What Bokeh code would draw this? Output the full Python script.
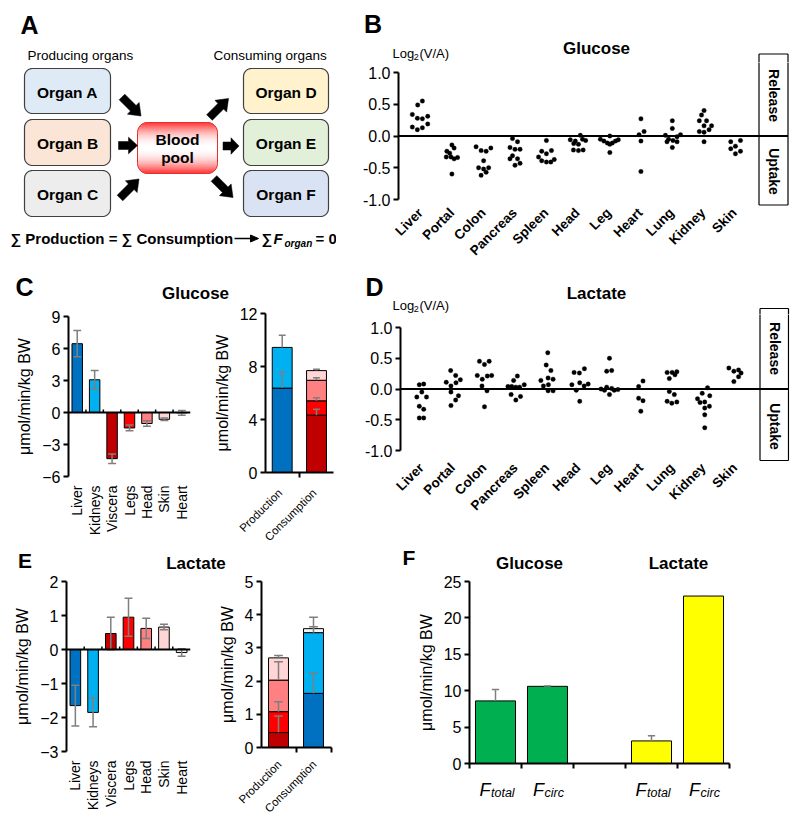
import math
import numpy as np
from bokeh.plotting import figure
from bokeh.models import Range1d, FixedTicker, Span, NumeralTickFormatter, CustomJSTickFormatter
from bokeh.layouts import row, column
from bokeh.embed import file_html
from bokeh.resources import INLINE
from bokeh.core.properties import value

FONT = "Liberation Sans"
GREY = "#7F7F7F"

# ---------------- data ----------------
vessel_organs = ["Liver", "Portal", "Colon", "Pancreas", "Spleen", "Head", "Leg", "Heart", "Lung", "Kidney", "Skin"]
log2_ticks = [-1.0, -0.5, 0.0, 0.5, 1.0]

glc_log2 = [
    [0.49, 0.55, 0.34, 0.28, 0.27, 0.31, 0.14, 0.10, 0.13, 0.19],
    [-0.14, -0.19, -0.24, -0.27, -0.33, -0.33, -0.36, -0.34, -0.60],
    [-0.17, -0.23, -0.24, -0.19, -0.39, -0.50, -0.52, -0.50, -0.62, -0.57],
    [-0.04, -0.09, -0.18, -0.21, -0.21, -0.31, -0.36, -0.36, -0.43, -0.46],
    [-0.07, -0.24, -0.28, -0.23, -0.33, -0.39, -0.41, -0.41, -0.37],
    [0.01, -0.06, -0.08, -0.05, -0.07, -0.12, -0.13, -0.22, -0.23, -0.22],
    [-0.05, -0.08, -0.11, -0.13, -0.11, -0.08, -0.06, 0.00, -0.26],
    [0.27, 0.07, 0.02, -0.08, -0.56],
    [0.24, 0.12, 0.01, -0.05, -0.07, -0.01, 0.02, -0.09, -0.09, -0.18],
    [0.40, 0.33, 0.24, 0.24, 0.16, 0.16, 0.07, 0.06, 0.10, -0.09],
    [-0.09, -0.16, -0.07, -0.20, -0.24, -0.28],
]
glc_jitter = [
    [-0.09, 0.06, -0.26, -0.10, 0.06, 0.23, -0.26, -0.10, 0.06, 0.23],
    [0.00, 0.07, -0.16, -0.07, -0.18, -0.03, 0.07, 0.18, 0.00],
    [-0.23, -0.07, 0.09, 0.24, 0.01, -0.15, 0.01, 0.17, -0.07, 0.09],
    [-0.07, 0.09, -0.15, 0.01, 0.17, -0.07, -0.15, 0.09, 0.17, 0.01],
    [0.01, -0.14, 0.01, 0.17, -0.24, -0.14, 0.01, 0.15, 0.26],
    [0.09, -0.23, -0.07, 0.16, 0.26, -0.12, 0.03, -0.13, 0.03, 0.18],
    [-0.27, -0.16, -0.05, 0.03, 0.11, 0.21, 0.30, 0.03, 0.03],
    [0.02, 0.12, -0.04, 0.02, 0.02],
    [0.02, 0.02, -0.20, -0.10, 0.04, 0.17, 0.28, -0.15, 0.17, 0.02],
    [0.03, -0.05, -0.12, 0.11, 0.03, 0.27, -0.12, 0.03, 0.19, 0.03],
    [-0.12, 0.03, 0.19, -0.12, 0.19, 0.03],
]
lac_log2 = [
    [0.07, 0.08, -0.13, -0.05, -0.13, -0.28, -0.33, -0.47, -0.47],
    [0.30, 0.22, 0.15, 0.11, 0.05, 0.10, -0.05, -0.11, -0.18, -0.27],
    [0.45, 0.40, 0.45, 0.22, 0.16, 0.21, 0.22, 0.05, -0.03, -0.29],
    [0.04, 0.04, 0.03, 0.03, 0.21, 0.14, 0.07, -0.09, -0.18, -0.12],
    [0.59, 0.39, 0.30, 0.14, 0.18, 0.16, 0.05, 0.07, -0.03, -0.03],
    [0.27, 0.26, 0.33, 0.07, -0.02, 0.10, 0.05, -0.20, 0.08],
    [0.50, 0.29, 0.30, 0.00, -0.02, 0.03, 0.01, -0.02, -0.01, -0.09],
    [0.04, 0.13, -0.15, -0.19, -0.36],
    [0.27, 0.27, 0.28, 0.23, 0.17, -0.04, -0.09, -0.20, -0.23, -0.21],
    [0.02, -0.07, -0.11, -0.16, -0.22, -0.21, -0.28, -0.31, -0.42, -0.63],
    [0.34, 0.29, 0.31, 0.26, 0.20, 0.12],
]
lac_jitter = [
    [-0.07, 0.07, -0.15, 0.01, 0.16, -0.07, 0.07, -0.07, 0.07],
    [-0.07, 0.09, 0.24, -0.21, -0.06, 0.10, -0.06, 0.18, 0.09, -0.06],
    [-0.15, 0.01, 0.16, -0.22, -0.06, 0.10, 0.24, -0.07, 0.09, 0.01],
    [-0.24, -0.12, 0.01, 0.13, 0.06, -0.06, 0.28, -0.14, 0.01, 0.16],
    [0.03, -0.02, 0.13, -0.19, 0.04, 0.20, -0.11, 0.05, 0.04, 0.20],
    [-0.13, 0.04, 0.20, -0.20, -0.06, 0.05, 0.19, 0.05, 0.32],
    [0.00, -0.09, 0.07, -0.27, -0.16, -0.09, 0.07, 0.15, 0.27, 0.00],
    [-0.07, 0.07, -0.07, 0.07, 0.00],
    [-0.16, 0.00, 0.15, 0.09, -0.09, -0.09, 0.07, -0.16, -0.01, 0.15],
    [0.13, -0.04, 0.20, -0.19, -0.11, 0.04, 0.19, 0.04, 0.04, 0.04],
    [-0.19, -0.03, 0.12, 0.20, 0.12, -0.03],
]

regions = ["Liver", "Kidneys", "Viscera", "Legs", "Head", "Skin", "Heart"]
region_palette = ["#0070C0", "#00B0F0", "#C00000", "#FF0000", "#FF8080", "#FFD5D5", "#F4F4F4"]
glc_flux = [6.45, 3.07, -4.33, -1.45, -1.03, -0.64, -0.03]
glc_flux_err = [1.23, 0.86, 0.45, 0.27, 0.26, 0.12, 0.22]
glc_flux_ticks = [-6, -3, 0, 3, 6, 9]
lac_flux = [-1.65, -1.85, 0.47, 0.95, 0.62, 0.66, -0.09]
lac_flux_err = [0.60, 0.42, 0.48, 0.56, 0.30, 0.08, 0.11]
lac_flux_ticks = [-3, -2, -1, 0, 1, 2]

balance = ["Production", "Consumption"]
glc_prod_regions = ["Liver", "Kidneys"]
glc_prod = [6.37, 3.07]
glc_prod_err = [1.22, 0.91]
glc_cons_regions = ["Viscera", "Legs", "Head", "Skin"]
glc_cons = [4.33, 1.08, 1.55, 0.73]
glc_cons_err = [0.45, 0.23, 0.20, 0.10]
glc_bal_ticks = [0, 4, 8, 12]
lac_prod_regions = ["Viscera", "Legs", "Head", "Skin"]
lac_prod = [0.45, 0.63, 0.95, 0.67]
lac_prod_err = [0.50, 0.30, 0.55, 0.07]
lac_cons_regions = ["Liver", "Kidneys", "Heart"]
lac_cons = [1.63, 1.83, 0.12]
lac_cons_err = [0.61, 0.18, 0.34]
lac_bal_ticks = [0, 1, 2, 3, 4, 5]

flux_metabolites = ["Glucose", "Lactate"]
flux_kinds = ["total", "circ", "total", "circ"]
flux_slot = [0, 1, 3, 4]
flux_vals = [8.6, 10.6, 3.1, 23.0]
flux_err = [1.57, 0.05, 0.70, 0.05]
flux_palette = ["#00B050", "#00B050", "#FFFF00", "#FFFF00"]
flux_ticks = [0, 5, 10, 15, 20, 25]

REG_COLOR = dict(zip(regions, region_palette))
UNIT = "\u03bcmol/min/kg BW"


# ---------------- helpers ----------------
def base_style(p):
    p.outline_line_color = None
    p.background_fill_color = "white"
    p.border_fill_color = "white"


def plot_fig(outer, frame, xmap, ymap):
    ox0, oy0, ox1, oy1 = outer
    fx0, fy0, fx1, fy1 = frame
    (px0, vx0), (px1, vx1) = xmap
    (py0, vy0), (py1, vy1) = ymap
    sx = (vx1 - vx0) / (px1 - px0)
    sy = (vy1 - vy0) / (py1 - py0)

    def X(px):
        return vx0 + (px - px0) * sx

    def Y(py):
        return vy0 + (py - py0) * sy

    def PX(v):
        return px0 + (v - vx0) / sx

    p = figure(width=ox1 - ox0, height=oy1 - oy0,
               x_range=Range1d(X(fx0), X(fx1)), y_range=Range1d(Y(fy1), Y(fy0)),
               min_border_left=fx0 - ox0, min_border_right=ox1 - fx1,
               min_border_top=fy0 - oy0, min_border_bottom=oy1 - fy1,
               output_backend="svg", toolbar_location=None, title=None, frame_align=False)
    p.xgrid.visible = False
    p.ygrid.visible = False
    base_style(p)
    return p, X, Y, PX, sx, sy


def canvas(outer):
    x0, y0, x1, y1 = outer
    p = figure(width=x1 - x0, height=y1 - y0, x_range=Range1d(x0, x1), y_range=Range1d(-y1, -y0),
               x_axis_type=None, y_axis_type=None, min_border_left=0, min_border_right=0,
               min_border_top=0, min_border_bottom=0, output_backend="svg", toolbar_location=None,
               title=None, frame_align=False)
    base_style(p)
    return p


def ctext(p, px, py, s, size, style="bold", align="center", baseline="middle", angle=0.0):
    p.text(x=[px], y=[-py], text=[s], text_font=value(FONT), text_font_size=value(f"{size}px"),
           text_font_style=style, text_align=align, text_baseline=baseline, angle=angle,
           text_color="black")


def cseg(p, segs, width=1.2, color="black"):
    p.segment(x0=[s[0] for s in segs], y0=[-s[1] for s in segs], x1=[s[2] for s in segs],
              y1=[-s[3] for s in segs], line_color=color, line_width=width)


def style_y(ax, ticks, fmt=None, label=None):
    ax.ticker = FixedTicker(ticks=ticks)
    if fmt:
        ax.formatter = NumeralTickFormatter(format=fmt)
    ax.axis_line_width = 2
    ax.axis_line_color = "black"
    ax.major_tick_line_width = 2
    ax.major_tick_line_color = "black"
    ax.major_tick_out = 5
    ax.major_tick_in = 0
    ax.minor_tick_line_color = None
    ax.major_label_text_font = FONT
    ax.major_label_text_font_size = "16px"
    ax.major_label_text_color = "black"
    ax.major_label_standoff = 3
    if label:
        ax.axis_label = label
        ax.axis_label_text_font = FONT
        ax.axis_label_text_font_style = "normal"
        ax.axis_label_text_font_size = "16px"
        ax.axis_label_text_color = "black"
        ax.axis_label_standoff = 6


def style_cat_x(ax, names, angle, size, bold=False, standoff=4):
    ax.ticker = FixedTicker(ticks=list(range(len(names))))
    ax.major_label_overrides = {i: n for i, n in enumerate(names)}
    ax.major_label_orientation = angle
    ax.axis_line_color = None
    ax.major_tick_line_color = None
    ax.minor_tick_line_color = None
    ax.major_tick_out = 0
    ax.major_tick_in = 0
    ax.major_label_standoff = standoff
    ax.major_label_text_font = FONT
    ax.major_label_text_font_size = f"{size}px"
    ax.major_label_text_font_style = "bold" if bold else "normal"
    ax.major_label_text_color = "black"


def style_tick_x(ax, ticks):
    ax.ticker = FixedTicker(ticks=ticks)
    ax.formatter = CustomJSTickFormatter(code="return ''")
    ax.axis_line_width = 2
    ax.axis_line_color = "black"
    ax.major_tick_line_width = 2
    ax.major_tick_line_color = "black"
    ax.major_tick_out = 5
    ax.major_tick_in = 0
    ax.minor_tick_line_color = None
    ax.major_label_standoff = 0
    ax.major_label_text_font_size = "0px"


def caps(p, xs, ys, w):
    p.segment(x0=[x - w / 2 for x in xs], y0=ys, x1=[x + w / 2 for x in xs], y1=ys,
              line_color=GREY, line_width=1.5)


def rrect(x0, y0, x1, y1, r, n=10):
    xs, ys = [], []
    for cx, cy, a0, a1 in [(x1 - r, y0 + r, -90, 0), (x1 - r, y1 - r, 0, 90),
                           (x0 + r, y1 - r, 90, 180), (x0 + r, y0 + r, 180, 270)]:
        for t in np.linspace(math.radians(a0), math.radians(a1), n):
            xs.append(cx + r * math.cos(t))
            ys.append(-(cy + r * math.sin(t)))
    return xs, ys


def block_arrow(cx, cy, theta, L, hs, hh, hl):
    pts = [(-L / 2, -hs), (L / 2 - hl, -hs), (L / 2 - hl, -hh), (L / 2, 0),
           (L / 2 - hl, hh), (L / 2 - hl, hs), (-L / 2, hs)]
    t = math.radians(theta)
    return ([cx + x * math.cos(t) - y * math.sin(t) for x, y in pts],
            [-(cy + x * math.sin(t) + y * math.cos(t)) for x, y in pts])


def log2_label(p, py):
    ctext(p, 392, py, "Log", 13, "normal", "left")
    ctext(p, 413.3, py + 3.5, "2", 9, "normal", "left")
    ctext(p, 419, py, "(V/A)", 13, "normal", "left")


ROW1 = 266  # bottom of first row

# ---------------- Panel A (schematic) ----------------
pA = canvas((0, 0, 336, ROW1))
ctext(pA, 29, 24, "A", 25)
ctext(pA, 27, 55, "Producing organs", 13.5, "normal", "left")
ctext(pA, 213, 55, "Consuming organs", 13.5, "normal", "left")
organ_boxes = [("Organ A", 24, 68, 110, 113, "#DEEBF7"), ("Organ B", 24, 119, 110, 165, "#FBE5D6"),
               ("Organ C", 24, 170, 110, 216, "#EDEDED"), ("Organ D", 243, 68, 328, 113, "#FFF2CC"),
               ("Organ E", 243, 119, 328, 165, "#E2F0D9"), ("Organ F", 243, 170, 328, 216, "#DAE3F3")]
for name, x0, y0, x1, y1, col in organ_boxes:
    bxs, bys = rrect(x0, y0, x1, y1, 8)
    pA.patch(bxs, bys, fill_color=col, line_color="#404040", line_width=1.2)
    ctext(pA, (x0 + x1) / 2, (y0 + y1) / 2 + 1, name, 15.5)
bp0, bpt, bp1, bpb, bpr = 137, 122, 217, 173, 10
ymid = (bpt + bpb) / 2
lefts, rights, tops, bots, cols = [], [], [], [], []
for yy in np.arange(bpt, bpb, 1.0):
    yc = yy + 0.5
    inset = 0.0
    if yc < bpt + bpr:
        d = bpt + bpr - yc
        inset = bpr - math.sqrt(max(bpr ** 2 - d ** 2, 0))
    elif yc > bpb - bpr:
        d = yc - (bpb - bpr)
        inset = bpr - math.sqrt(max(bpr ** 2 - d ** 2, 0))
    tt = abs(yc - ymid) / ((bpb - bpt) / 2)
    k = min(1.0, tt ** 2.0 * 1.1)
    g = int(round(255 * (1 - k)))
    lefts.append(bp0 + inset)
    rights.append(bp1 - inset)
    tops.append(-yy)
    bots.append(-(yy + 1.05))
    cols.append("#%02X%02X%02X" % (255, g, g))
pA.quad(left=lefts, right=rights, top=tops, bottom=bots, fill_color=cols, line_color=None)
pbx, pby = rrect(bp0, bpt, bp1, bpb, bpr)
pA.patch(pbx, pby, fill_color=None, line_color="#E03030", line_width=1)
ctext(pA, 177, 138.5, "Blood", 15.5)
ctext(pA, 177, 157, "pool", 15.5)
for cx, cy, th, L, hl in [(131, 106, 45, 27, 11), (127.5, 145, 0, 19, 9), (129, 188, -45, 27, 11),
                          (218.5, 107.5, -45, 27, 11), (230.5, 145.5, 0, 16, 8), (223, 187.5, 45, 27, 11)]:
    axs, ays = block_arrow(cx, cy, th, L, 4, 8.3, hl)
    pA.patch(axs, ays, fill_color="black", line_color="black", line_width=0.5)
ctext(pA, 10, 238, "\u2211 Production = \u2211 Consumption", 15, "bold", "left")
cseg(pA, [(234, 238, 251, 238)], width=1.3)
pA.patch([250, 258, 250], [-234.5, -238, -241.5], fill_color="black", line_color="black")
ctext(pA, 261, 238, "\u2211", 15, "bold", "left")
ctext(pA, 273, 238, "F", 15, "bold italic", "left")
ctext(pA, 284, 243, "organ", 10, "bold italic", "left")
ctext(pA, 315, 238, "= 0", 15, "bold", "left")


# ---------------- Panels B / D (dot plots) ----------------
def dot_panel(head_outer, outer, frame, xmap, ymap, vals, jit, title, letter, letter_xy, title_y, log_y,
              box, rel_y, upt_y):
    ph = canvas(head_outer)
    ctext(ph, letter_xy[0], letter_xy[1], letter, 25)
    ctext(ph, 596, title_y, title, 17)
    log2_label(ph, log_y)
    bx0, by0, bx1, by1 = box
    cut = outer[1]
    cseg(ph, [(bx0, by0, bx1, by0), (bx0, by0, bx0, cut + 1), (bx1, by0, bx1, cut + 1)])

    p, X, Y, PX, sx, sy = plot_fig(outer, frame, xmap, ymap)
    style_y(p.yaxis[0], log2_ticks, fmt="0.0")
    p.yaxis[0].bounds = (-1, 1)
    style_cat_x(p.xaxis[0], vessel_organs, math.pi / 4, 13.5, bold=True, standoff=4)
    xs = [i + o for i, offs in enumerate(jit) for o in offs]
    ys = [v for vv in vals for v in vv]
    p.scatter(xs, ys, size=4.5, fill_color="black", line_color="black", line_width=0.3)
    p.segment(x0=[X(frame[0])], y0=[0], x1=[X(bx1)], y1=[0], line_color="black", line_width=2)
    p.segment(x0=[X(bx0), X(bx1), X(bx0)], y0=[Y(cut - 1), Y(cut - 1), Y(by1)],
              x1=[X(bx0), X(bx1), X(bx1)], y1=[Y(by1), Y(by1), Y(by1)], line_color="black", line_width=1.2)
    cxb = X((bx0 + bx1) / 2 + 0.5)
    for txt, ty in [("Release", rel_y), ("Uptake", upt_y)]:
        p.text(x=[cxb], y=[Y(ty)], text=[txt], angle=-math.pi / 2, text_font=value(FONT),
               text_font_size=value("14px"), text_font_style="bold", text_align="center",
               text_baseline="middle", text_color="black")
    return column(ph, p)


colB = dot_panel((336, 0, 800, 62), (336, 62, 800, ROW1), (398, 62, 789, 206), ((420, 0), (734, 10)),
                 ((72, 1), (199, -1)), glc_log2, glc_jitter, "Glucose", "B", (372.5, 23), 48, 53,
                 (758.5, 53.5, 787.5, 204.5), 95, 171)
colD = dot_panel((336, ROW1, 800, 314), (336, 314, 800, 544), (400, 314, 789, 461), ((421, 0), (734.3, 10)),
                 ((327, 1), (450, -1)), lac_log2, lac_jitter, "Lactate", "D", (374, 286), 293, 305,
                 (759.5, 308, 788, 460), 348, 426)


# ---------------- Panels C / E ----------------
def header(outer, letter, lxy, lsize, title, txy):
    p = canvas(outer)
    ctext(p, lxy[0], lxy[1], letter, lsize)
    ctext(p, txy[0], txy[1], title, 17)
    return p


def organ_panel(outer, frame, ymap, vals, errs, ticks):
    p, X, Y, PX, sx, sy = plot_fig(outer, frame, ((frame[0], -0.5), (frame[2], 6.5)), ymap)
    style_y(p.yaxis[0], ticks, label=UNIT)
    style_cat_x(p.xaxis[0], regions, math.pi / 2, 14, standoff=9)
    xs = list(range(len(regions)))
    p.vbar(x=xs, top=vals, bottom=0, width=0.6, fill_color=region_palette, line_color="black", line_width=1)
    lo = [v - e for v, e in zip(vals, errs)]
    hi = [v + e for v, e in zip(vals, errs)]
    p.segment(x0=xs, y0=lo, x1=xs, y1=hi, line_color=GREY, line_width=1.5)
    caps(p, xs, lo, 0.45)
    caps(p, xs, hi, 0.45)
    p.add_layout(Span(location=0, dimension="width", line_color="black", line_width=2))
    tk = [i + 0.5 for i in range(len(regions) - 1)]
    p.segment(x0=tk, y0=[0] * len(tk), x1=tk, y1=[-3 * sy] * len(tk), line_color="black", line_width=1.5)
    return p


def stack_bars(p, i, parts, errs, names, width, capw):
    cum = np.concatenate([[0], np.cumsum(parts)])
    p.vbar(x=[i] * len(parts), bottom=cum[:-1], top=cum[1:], width=width,
           fill_color=[REG_COLOR[n] for n in names], line_color="black", line_width=1)
    tops = list(cum[1:])
    hi = [t + e for t, e in zip(tops, errs)]
    p.segment(x0=[i] * len(tops), y0=tops, x1=[i] * len(tops), y1=hi, line_color=GREY, line_width=1.5)
    caps(p, [i] * len(tops), hi, capw)


def balance_panel(outer, foot_outer, frame, xmap, ymap, ticks, prod, prod_err, prod_names, cons, cons_err,
                  cons_names, width, capw, label_dx, label_y):
    p, X, Y, PX, sx, sy = plot_fig(outer, frame, xmap, ymap)
    style_y(p.yaxis[0], ticks, label=UNIT)
    style_tick_x(p.xaxis[0], [-0.5, 0.5, 1.5])
    stack_bars(p, 0, prod, prod_err, prod_names, width, capw)
    stack_bars(p, 1, cons, cons_err, cons_names, width, capw)
    pf = canvas(foot_outer)
    for i, name in enumerate(balance):
        ctext(pf, PX(i) + label_dx, label_y, name, 11.5, "normal", "right", "middle", angle=math.pi / 4)
    return column(p, pf)


pCh = header((0, ROW1, 336, 303), "C", (24, 286), 25, "Glucose", (195, 293))
pCl = organ_panel((0, 303, 200, 544), (68, 316, 190, 476), ((316, 9), (476, -6)), glc_flux, glc_flux_err,
                  glc_flux_ticks)
colCr = balance_panel((200, 303, 336, 484), (200, 484, 336, 544), (265, 313, 333, 472), ((281.7, 0), (316, 1)),
                      ((313, 12), (472, 0)), glc_bal_ticks, glc_prod, glc_prod_err, glc_prod_regions,
                      glc_cons, glc_cons_err, glc_cons_regions, 0.58, 0.2, -2, 490.5)

pEh = header((0, 544, 336, 572), "E", (24.5, 560), 21, "Lactate", (195.5, 562.5))
pEl = organ_panel((0, 572, 200, 820), (66, 581, 190, 751), ((581, 2), (751, -3)), lac_flux, lac_flux_err,
                  lac_flux_ticks)
colEr = balance_panel((200, 572, 336, 756), (200, 756, 336, 820), (261, 581, 331, 747), ((278, 0), (313, 1)),
                      ((581, 5), (747, 0)), lac_bal_ticks, lac_prod, lac_prod_err, lac_prod_regions,
                      lac_cons, lac_cons_err, lac_cons_regions, 0.57, 0.25, 1, 762)

# ---------------- Panel F ----------------
pFh = canvas((336, 544, 800, 572))
ctext(pFh, 408.5, 556.5, "F", 21)
pF, XF, YF, PXF, sxF, syF = plot_fig((336, 572, 800, 773), (469, 581, 729, 763), ((469, -0.5), (729, 4.5)),
                                     ((581, 25), (763, 0)))
ctext(pFh, PXF(0.5) + 8, 562.5, flux_metabolites[0], 17)
ctext(pFh, PXF(3.5) + 1, 562.5, flux_metabolites[1], 17)
style_y(pF.yaxis[0], flux_ticks, label=UNIT)
style_tick_x(pF.xaxis[0], [-0.5, 0.5, 1.5, 2.5, 3.5, 4.5])
pF.vbar(x=flux_slot, top=flux_vals, bottom=0, width=0.77, fill_color=flux_palette, line_color="black",
        line_width=1)
f_hi = [v + e for v, e in zip(flux_vals, flux_err)]
pF.segment(x0=flux_slot, y0=flux_vals, x1=flux_slot, y1=f_hi, line_color=GREY, line_width=1.5)
caps(pF, flux_slot, f_hi, 0.14)
pFf = canvas((336, 773, 800, 820))
for s, kind in zip(flux_slot, flux_kinds):
    split = PXF(s) + (-5 if kind == "total" else -3.5)
    ctext(pFf, split, 789.5, "F", 18, "italic", "right", "alphabetic")
    ctext(pFf, split + 0.5, 792, kind, 12.5, "italic", "left", "alphabetic")

layout = column(
    row(pA, colB),
    row(column(pCh, row(pCl, colCr)), colD),
    row(column(pEh, row(pEl, colEr)), column(pFh, pF, pFf)),
)

open("out.html", "w").write(file_html(layout, INLINE, title="Organ fluxes"))
